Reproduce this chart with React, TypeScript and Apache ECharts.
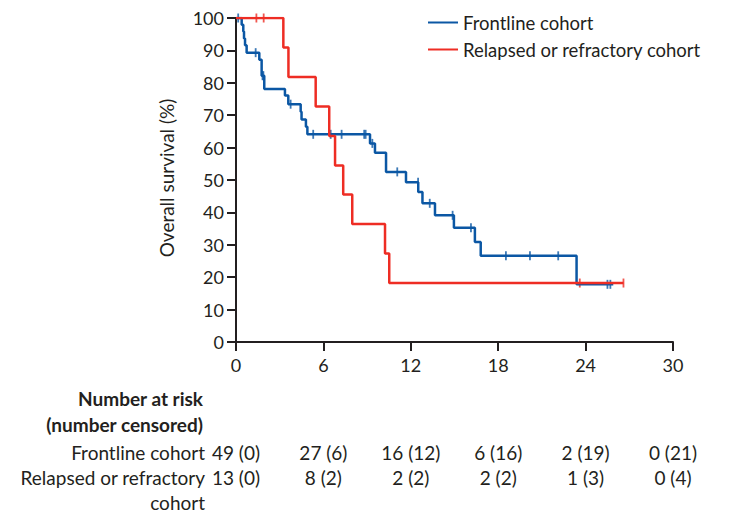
import React, { useEffect, useRef } from "react";
import * as echarts from "echarts";

const frontlineTimes = [0, 0.39, 0.5, 0.55, 0.62, 0.73, 1.6, 1.76, 1.94, 3.36, 3.59, 4.44, 4.5, 4.8, 4.9, 9.2, 9.54, 10.3, 11.67, 12.51, 12.8, 13.66, 14.96, 16.4, 16.8, 23.38, 25.9];
const frontlineSurvival = [100, 97.9, 95.8, 93.7, 91.6, 89.3, 87.1, 82.2, 78.1, 76.1, 73.4, 71.1, 68.7, 66.4, 64.1, 61.3, 58.4, 52.5, 49.3, 46.3, 42.8, 39.1, 35.3, 30.9, 26.6, 17.8, 17.8];
const frontlineCensorTimes = [0.15, 1.35, 1.82, 1.88, 3.75, 5.3, 6.5, 7.25, 8.8, 8.9, 9.36, 11.07, 12.5, 13.3, 14.87, 16.13, 18.53, 20.18, 22.12, 25.5, 25.7];

const relapsedTimes = [0, 3.25, 3.6, 5.47, 6.4, 6.8, 7.36, 7.98, 10.23, 10.52, 26.6];
const relapsedSurvival = [100, 90.9, 81.8, 72.7, 63.6, 54.5, 45.5, 36.4, 27.3, 18.2, 18.2];
const relapsedCensorTimes = [1.4, 1.9, 23.6, 26.6];

const riskTimes = [0, 6, 12, 18, 24, 30];
const frontlineAtRisk = [49, 27, 16, 6, 2, 0];
const frontlineCensored = [0, 6, 12, 16, 19, 21];
const relapsedAtRisk = [13, 8, 2, 2, 1, 0];
const relapsedCensored = [0, 2, 2, 2, 3, 4];

const BLUE = "#0b57a4";
const RED = "#ee2d24";
const INK = "#231f20";
const FONT = "Lato";

function stepValue(times: number[], vals: number[], t: number) {
  let v = vals[0];
  for (let i = 0; i < times.length; i++) {
    if (times[i] <= t) v = vals[i];
  }
  return v;
}

export default function App() {
  const ref = useRef<HTMLDivElement>(null);
  useEffect(() => {
    if (!ref.current) return;
    const chart = echarts.init(ref.current, null, { renderer: "svg" });
    chart.setOption({
      animation: false,
      textStyle: { fontFamily: FONT },
      grid: { left: 236, right: 56, top: 18, bottom: 171, containLabel: false },
      legend: {
        orient: "vertical",
        left: 423,
        top: 7,
        itemWidth: 30,
        itemHeight: 2,
        itemGap: 6,
        icon: "rect",
        data: ["Frontline cohort", "Relapsed or refractory cohort"],
        textStyle: { fontSize: 18.5, lineHeight: 21, color: INK, fontFamily: FONT },
      },
      xAxis: {
        type: "value",
        min: 0,
        max: 30,
        interval: 6,
        axisLine: { lineStyle: { color: INK, width: 2 } },
        axisTick: { length: 9, lineStyle: { color: INK, width: 2 } },
        axisLabel: { fontSize: 18, color: INK, margin: 14, fontFamily: FONT },
        splitLine: { show: false },
      },
      yAxis: {
        type: "value",
        min: 0,
        max: 100,
        interval: 10,
        axisLine: { show: true, lineStyle: { color: INK, width: 2 } },
        axisTick: { show: true, length: 9, lineStyle: { color: INK, width: 2 } },
        axisLabel: { fontSize: 18, color: INK, margin: 12, fontFamily: FONT },
        splitLine: { show: false },
      },
      series: [
        {
          name: "Frontline cohort",
          type: "line",
          step: "end",
          showSymbol: false,
          color: BLUE,
          lineStyle: { color: BLUE, width: 2.5 },
          data: frontlineTimes.map((t, i) => [t, frontlineSurvival[i]]),
        },
        {
          name: "Frontline censored",
          type: "scatter",
          symbol: "rect",
          symbolSize: [1.8, 9],
          itemStyle: { color: BLUE },
          data: frontlineCensorTimes.map((t) => [t, stepValue(frontlineTimes, frontlineSurvival, t)]),
        },
        {
          name: "Relapsed or refractory cohort",
          type: "line",
          step: "end",
          showSymbol: false,
          color: RED,
          lineStyle: { color: RED, width: 2.5 },
          data: relapsedTimes.map((t, i) => [t, relapsedSurvival[i]]),
        },
        {
          name: "Relapsed censored",
          type: "scatter",
          symbol: "rect",
          symbolSize: [1.8, 9],
          itemStyle: { color: RED },
          data: relapsedCensorTimes.map((t) => [t, stepValue(relapsedTimes, relapsedSurvival, t)]),
        },
      ],
    });

    const xs = riskTimes.map((t) => chart.convertToPixel({ xAxisIndex: 0 }, t) as number);
    const txt = (text: string, x: number, y: number, align: string, bold = false) => ({
      type: "text",
      x,
      y,
      style: {
        text,
        fill: INK,
        fontSize: 19,
        fontFamily: FONT,
        fontWeight: bold ? "bold" : "normal",
        align,
        verticalAlign: "middle",
      },
    });
    const graphics: any[] = [
      {
        type: "text",
        x: 166,
        y: 178,
        rotation: Math.PI / 2,
        style: { text: "Overall survival (%)", fill: INK, fontSize: 19, fontFamily: FONT, align: "center", verticalAlign: "middle" },
      },
      txt("Number at risk", 203, 398, "right", true),
      txt("(number censored)", 203, 424, "right", true),
      txt("Frontline cohort", 205, 452, "right"),
      txt("Relapsed or refractory", 205, 477, "right"),
      txt("cohort", 205, 502, "right"),
    ];
    xs.forEach((x, i) => {
      graphics.push(txt(`${frontlineAtRisk[i]} (${frontlineCensored[i]})`, x, 452, "center"));
      graphics.push(txt(`${relapsedAtRisk[i]} (${relapsedCensored[i]})`, x, 477, "center"));
    });
    chart.setOption({ graphic: graphics });

    return () => chart.dispose();
  }, []);
  return (
    <div
      ref={ref}
      style={{ position: "fixed", left: 0, top: 0, width: 729, height: 513, background: "#fff" }}
    />
  );
}
